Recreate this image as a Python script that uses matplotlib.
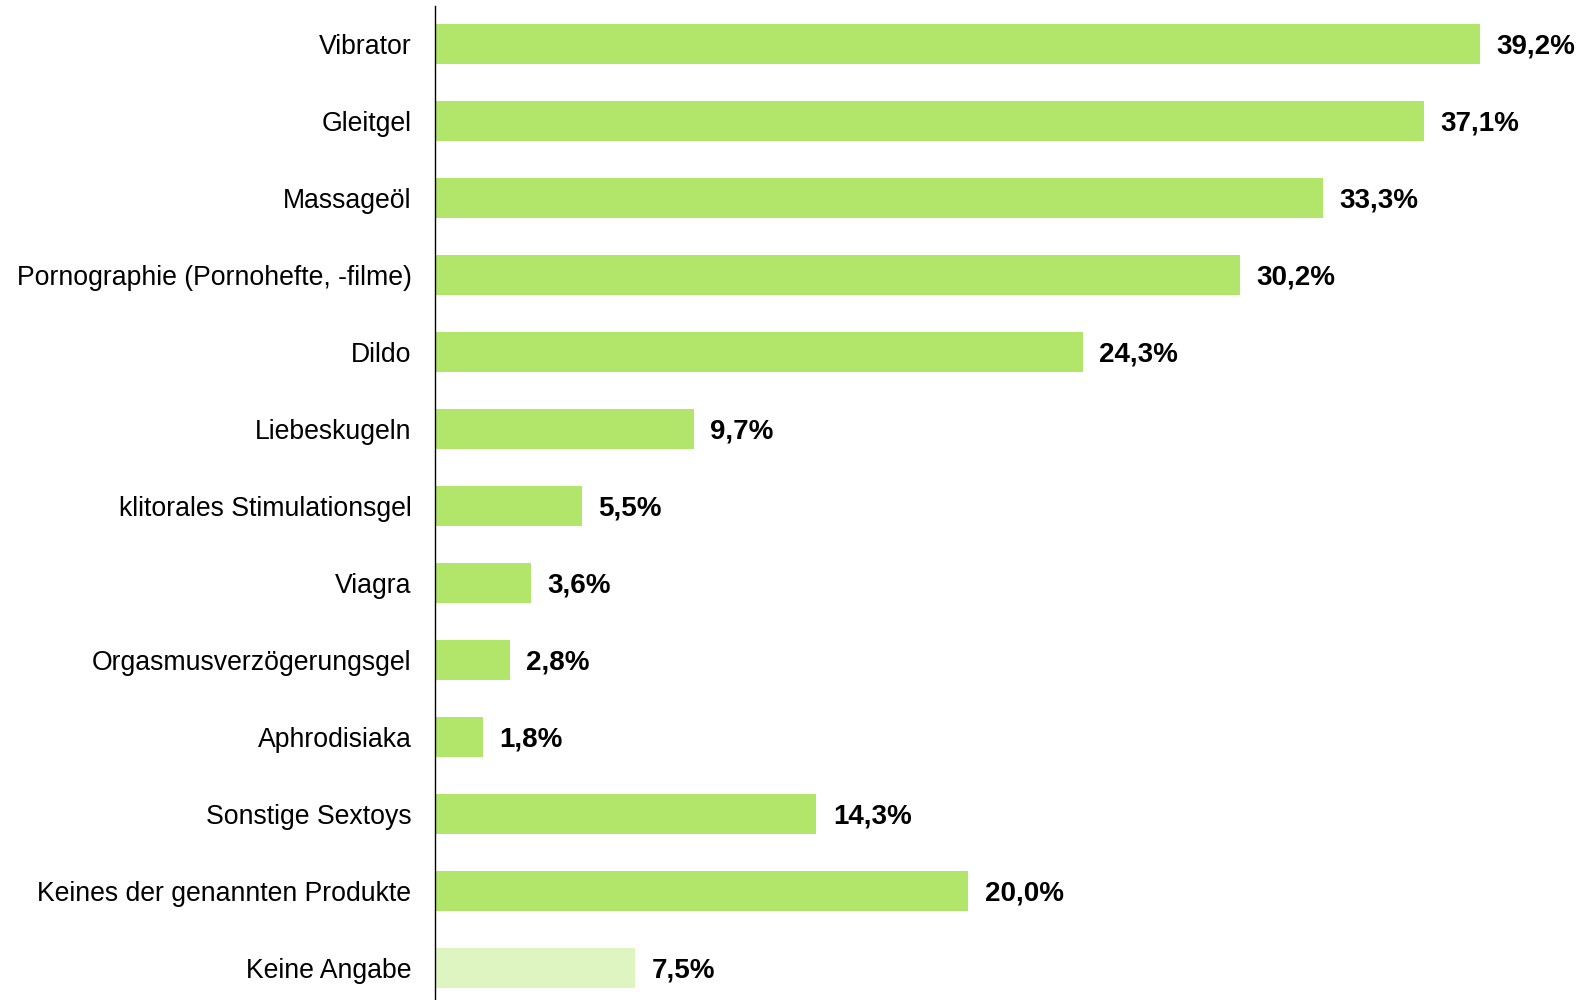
import matplotlib.pyplot as plt

categories = ["Vibrator", "Gleitgel", "Massageöl", "Pornographie (Pornohefte, -filme)",
              "Dildo", "Liebeskugeln", "klitorales Stimulationsgel", "Viagra",
              "Orgasmusverzögerungsgel", "Aphrodisiaka", "Sonstige Sextoys",
              "Keines der genannten Produkte", "Keine Angabe"]
values = [39.2, 37.1, 33.3, 30.2, 24.3, 9.7, 5.5, 3.6, 2.8, 1.8, 14.3, 20.0, 7.5]
labels = ["39,2%", "37,1%", "33,3%", "30,2%", "24,3%", "9,7%", "5,5%", "3,6%",
          "2,8%", "1,8%", "14,3%", "20,0%", "7,5%"]

plt.rcParams['font.family'] = ['Liberation Sans', 'DejaVu Sans']

fig = plt.figure(figsize=(15.78, 10), dpi=100)
ax = fig.add_axes([435 / 1578, 0, 1 - 435 / 1578, 0.9945])

colors = ["#b2e66a"] * (len(values) - 1) + ["#def5c2"]
ypos = list(range(len(values)))
bars = ax.barh(ypos, values, height=0.52, color=colors)

for b, lab in zip(bars, labels):
    ax.annotate(lab, (b.get_width(), b.get_y() + b.get_height() / 2),
                xytext=(12, -2), textcoords="offset points",
                va="center", ha="left", fontsize=20, fontweight="bold",
                annotation_clip=False)

ax.set_yticks(ypos)
ax.set_yticklabels(categories, fontsize=19.2)
ax.tick_params(axis="y", length=0, pad=17)
ax.set_xticks([])
ax.set_xlim(0, 1143 / (1045 / 39.2))
ax.set_ylim(-0.5 + 994.5 / 77, -0.5)

for s in ["top", "right", "bottom"]:
    ax.spines[s].set_visible(False)
ax.spines["left"].set_linewidth(1.0)
ax.spines["left"].set_color("black")

fig.savefig("out.png", dpi=100)
